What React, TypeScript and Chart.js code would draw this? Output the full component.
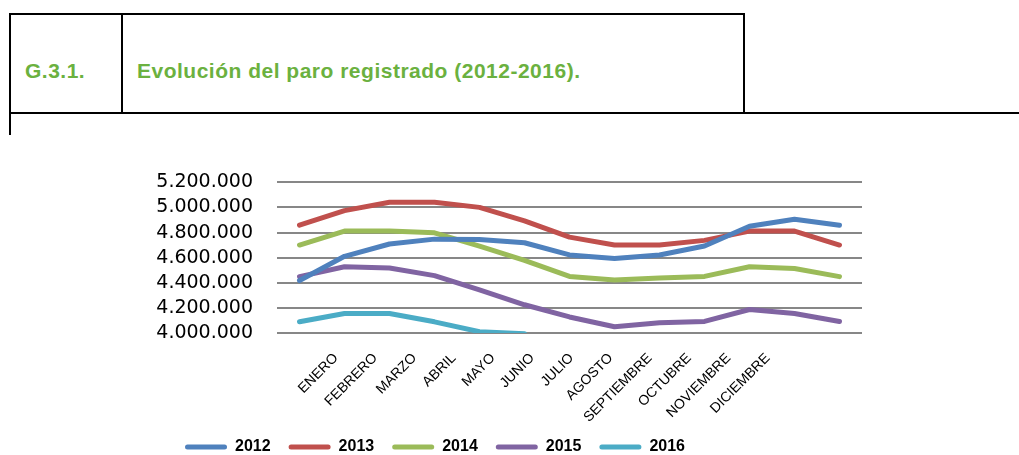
import React, { useEffect, useRef } from "react";
import { Chart, registerables } from "chart.js";

Chart.register(...registerables);

// 13 plotted points: December of the previous year followed by the 12 months
const periods = ["DIC. AÑO ANTERIOR", "ENERO", "FEBRERO", "MARZO", "ABRIL", "MAYO", "JUNIO", "JULIO", "AGOSTO", "SEPTIEMBRE", "OCTUBRE", "NOVIEMBRE", "DICIEMBRE"];
const monthLabels = ["ENERO", "FEBRERO", "MARZO", "ABRIL", "MAYO", "JUNIO", "JULIO", "AGOSTO", "SEPTIEMBRE", "OCTUBRE", "NOVIEMBRE", "DICIEMBRE"];

const seriesNames = ["2012", "2013", "2014", "2015", "2016"];
const s2012 = [4418000, 4611000, 4709000, 4748000, 4745000, 4719000, 4622000, 4593000, 4622000, 4693000, 4851000, 4906000, 4859000];
const s2013 = [4859000, 4975000, 5042000, 5042000, 5001000, 4894000, 4764000, 4701000, 4701000, 4738000, 4812000, 4812000, 4701000];
const s2014 = [4701000, 4812000, 4812000, 4798000, 4693000, 4579000, 4451000, 4423000, 4439000, 4451000, 4528000, 4514000, 4449000];
const s2015 = [4449000, 4528000, 4518000, 4457000, 4344000, 4225000, 4128000, 4050000, 4081000, 4092000, 4187000, 4155000, 4092000];
const s2016 = [4089000, 4155000, 4155000, 4089000, 4010000, 3995000];

const yTicks = [4000000, 4200000, 4400000, 4600000, 4800000, 5000000, 5200000];

const colors = ["#4F81BD", "#C0504D", "#9BBB59", "#8064A2", "#4BACC6"];

const fmt = (v: number) => String(Math.round(v)).replace(/\B(?=(\d{3})+(?!\d))/g, ".");

export default function App() {
  const ref = useRef<HTMLCanvasElement | null>(null);

  useEffect(() => {
    if (!ref.current) return;
    const all = [s2012, s2013, s2014, s2015, s2016];
    const chart = new Chart(ref.current, {
      type: "line",
      data: {
        labels: periods,
        datasets: all.map((d, i) => ({
          label: seriesNames[i],
          data: d,
          borderColor: colors[i],
          backgroundColor: colors[i],
          borderWidth: 5,
          pointRadius: 0,
          tension: 0,
          fill: false,
          borderCapStyle: "round" as const,
          borderJoinStyle: "round" as const,
          clip: { left: 5, top: 5, right: 5, bottom: 0 },
          xAxisID: "x",
        })),
      },
      options: {
        animation: false,
        responsive: false,
        maintainAspectRatio: false,
        layout: { padding: { top: 0, right: 20, left: 8, bottom: 0 } },
        scales: {
          x: {
            type: "category",
            display: false,
            offset: true,
          },
          x2: {
            type: "linear",
            position: "bottom",
            min: -1.5,
            max: 13.4,
            afterBuildTicks: (scale: any) => {
              scale.ticks = monthLabels.map((_, i) => ({ value: i }));
            },
            afterFit: (scale: any) => {
              scale.height = 88;
              // let the rotated labels overflow into the legend band, as in the original
              scale._computeLabelArea = () => null;
            },
            grid: { display: false, drawTicks: false },
            border: { display: false },
            ticks: {
              autoSkip: false,
              minRotation: 45,
              maxRotation: 45,
              padding: 17,
              color: "#000",
              font: { family: '"Liberation Sans", Arial, sans-serif', size: 14 },
              callback: (v: any) => monthLabels[Math.round(Number(v))] ?? "",
            },
          },
          y: {
            min: 4000000,
            max: 5200000,
            afterBuildTicks: (scale: any) => {
              scale.ticks = yTicks.map((v) => ({ value: v }));
            },
            afterFit: (scale: any) => {
              scale.width = 269;
            },
            grid: { color: "#878787", lineWidth: 2, drawTicks: false },
            border: { display: false },
            ticks: {
              autoSkip: false,
              padding: 24,
              color: "#000",
              font: { family: '"DejaVu Sans", Verdana, sans-serif', size: 19 },
              callback: (v: any) => fmt(Number(v)),
            },
          },
        },
        plugins: {
          title: { display: false },
          tooltip: { enabled: false },
          legend: {
            display: true,
            position: "bottom",
            labels: {
              boxWidth: 42,
              boxHeight: 5,
              padding: 18,
              color: "#000",
              useBorderRadius: true,
              borderRadius: 2.5,
              font: { family: '"Liberation Sans", Arial, sans-serif', size: 16, weight: "bold" },
              generateLabels: (c: any) =>
                Chart.defaults.plugins.legend.labels.generateLabels(c).map((l: any) => ({ ...l, lineWidth: 0, strokeStyle: "rgba(0,0,0,0)" })),
            },
          },
        },
      },
    } as any);
    return () => chart.destroy();
  }, []);

  const green = "#6BB13F";
  const line = (style: React.CSSProperties) => <div style={{ position: "absolute", background: "#000", ...style }} />;

  return (
    <div style={{ position: "absolute", left: 0, top: 0, width: 1019, height: 455, overflow: "hidden", background: "#fff" }}>
      {line({ left: 9, top: 13, width: 736, height: 2 })}
      {line({ left: 9, top: 13, width: 2, height: 122 })}
      {line({ left: 121, top: 13, width: 2, height: 101 })}
      {line({ left: 743, top: 13, width: 2, height: 101 })}
      {line({ left: 9, top: 112, width: 1010, height: 2 })}
      <div style={{ position: "absolute", left: 25, top: 59.5, fontFamily: '"Liberation Sans", Arial, sans-serif', fontWeight: "bold", fontSize: 21, lineHeight: "21px", color: green, letterSpacing: "0.5px", whiteSpace: "nowrap" }}>
        G.3.1.
      </div>
      <div style={{ position: "absolute", left: 137, top: 59.5, fontFamily: '"Liberation Sans", Arial, sans-serif', fontWeight: "bold", fontSize: 21, lineHeight: "21px", color: green, letterSpacing: "0.5px", whiteSpace: "nowrap" }}>
        Evolución del paro registrado (2012-2016).
      </div>
      <canvas ref={ref} width={882} height={318} style={{ position: "absolute", left: 0, top: 147, width: 882, height: 318 }} />
    </div>
  );
}
